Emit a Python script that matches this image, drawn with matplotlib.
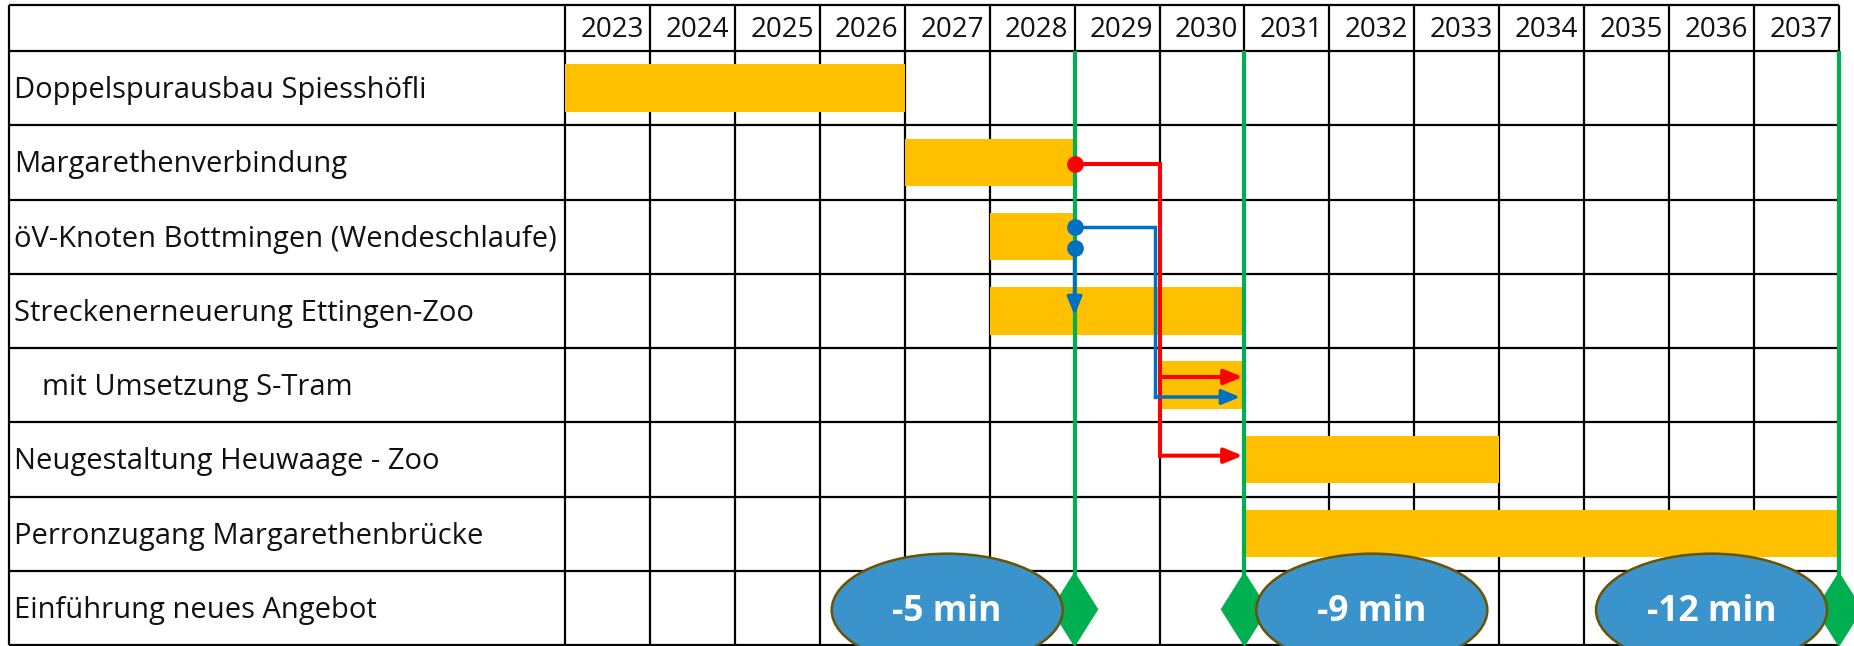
import matplotlib.pyplot as plt
from matplotlib.patches import Ellipse, Polygon

plt.rcParams['font.family'] = ['Open Sans', 'DejaVu Sans']

# --- Data ---
years = list(range(2023, 2038))
tasks = [
    "Doppelspurausbau Spiesshöfli",
    "Margarethenverbindung",
    "öV-Knoten Bottmingen (Wendeschlaufe)",
    "Streckenerneuerung Ettingen-Zoo",
    "mit Umsetzung S-Tram",
    "Neugestaltung Heuwaage - Zoo",
    "Perronzugang Margarethenbrücke",
    "Einführung neues Angebot",
]
indent = [0, 0, 0, 0, 1, 0, 0, 0]
bar_start = [2023, 2027, 2028, 2028, 2030, 2031, 2031]
bar_end = [2027, 2029, 2029, 2031, 2031, 2034, 2038]
milestones = [2029, 2031, 2038]
savings = ["-5 min", "-9 min", "-12 min"]
savings_pos = [2027.5, 2032.5, 2036.5]

# --- Geometry (pixels of the 1854x646 canvas) ---
W, H = 1854, 646
COL = 84.93          # px per year
ROW = 74.25          # px per row
X0_PX, Y0_PX = 565, 51
px_x = lambda p: 2023 + (p - X0_PX) / COL
px_y = lambda p: (p - Y0_PX) / ROW

LEFT = px_x(9)
HEAD_TOP = px_y(5)
RIGHT = years[-1] + 1
n_rows = len(tasks)

fig = plt.figure(figsize=(W / 100, H / 100), dpi=100)
ax = fig.add_axes([0, 0, 1, 1])
ax.set_xlim(px_x(0), px_x(W))
ax.set_ylim(px_y(H), px_y(0))
ax.axis("off")

# grid
grid_kw = dict(color="black", lw=1.6, zorder=1)
ax.hlines([HEAD_TOP] + list(range(n_rows + 1)), LEFT, RIGHT, **grid_kw)
ax.vlines([LEFT] + years + [RIGHT], HEAD_TOP, n_rows, **grid_kw)

# header + labels
for y in years:
    ax.text(y + 1 - 6 / COL, -14 / ROW, str(y), ha="right", va="baseline",
            fontsize=20, color="#111111")
for i, t in enumerate(tasks):
    ax.text(LEFT + (5 + 28 * indent[i]) / COL, i + 0.5 + 10 / ROW, t,
            ha="left", va="baseline", fontsize=21, color="#111111")

# bars
for i, (s, e) in enumerate(zip(bar_start, bar_end)):
    ax.barh(i + 0.5, e - s, left=s, height=0.64, color="#FFC000", zorder=2)

# milestones
green = "#00B050"
for m in milestones:
    ax.vlines(m, 0, n_rows - 0.5, color=green, lw=3, zorder=3)
    ax.add_patch(Polygon([(m, 7.03), (m + 0.27, 7.52), (m, 8.01), (m - 0.27, 7.52)],
                         closed=True, color=green, zorder=3))

# dependencies
red, blue = "#FF0000", "#0070C0"
ax.plot([2029, 2030.01, 2030.01], [1.52, 1.52, 5.45], color=red, lw=2.9, zorder=4,
        solid_joinstyle="miter")
ax.plot([2029], [1.52], "o", color=red, ms=11, zorder=4)
ax.plot([2029, 2029.95, 2029.95], [2.37, 2.37, 4.66], color=blue, lw=2.5, zorder=4,
        solid_joinstyle="miter")
ax.plot([2029, 2029], [2.37, 2.65], "o", color=blue, ms=11, zorder=4)

arr = lambda c, lw: dict(arrowstyle="-|>,head_length=1.1,head_width=0.45", color=c,
                         lw=lw, mutation_scale=10, shrinkA=0, shrinkB=0)
ax.annotate("", xy=(2030.98, 4.39), xytext=(2030.01, 4.39), arrowprops=arr(red, 2.9), zorder=4)
ax.annotate("", xy=(2030.98, 5.45), xytext=(2030.01, 5.45), arrowprops=arr(red, 2.9), zorder=4)
ax.annotate("", xy=(2030.95, 4.66), xytext=(2029.95, 4.66), arrowprops=arr(blue, 2.5), zorder=4)
ax.annotate("", xy=(2029, 3.56), xytext=(2029, 2.65), arrowprops=arr(blue, 2.5), zorder=4)

# travel time savings
for label, x in zip(savings, savings_pos):
    ax.add_patch(Ellipse((x, 7.53), width=2.72, height=1.52, facecolor="#3A93CB",
                         edgecolor="#6B5300", lw=1.8, zorder=5))
    ax.text(x, 7.55, label, ha="center", va="center", fontsize=25.5,
            fontweight="bold", color="white", zorder=6)

fig.savefig("out.png", dpi=100)
